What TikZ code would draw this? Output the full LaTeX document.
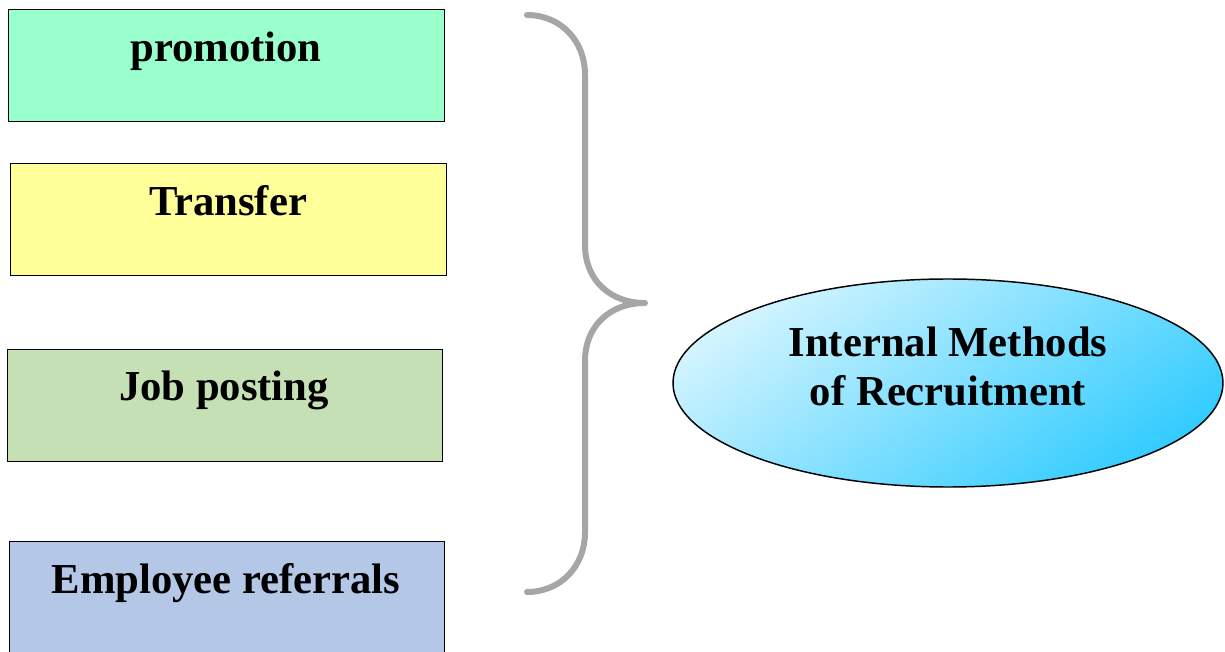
\documentclass[tikz,border=0pt]{standalone}
\usepackage{fontspec}
\setmainfont{Liberation Serif}
\begin{document}
\begin{tikzpicture}[x=0.75pt,y=-0.75pt,
  methodbox/.style={draw=black,line width=1.1pt,anchor=north west,inner sep=0pt},
  label/.style={font=\fontsize{32}{37}\selectfont\bfseries,anchor=base,inner sep=0pt},
  brace/.style={draw=black!35,line width=4.5pt,line cap=round,line join=round}]
  \definecolor{mint}{HTML}{99FFCC}
  \definecolor{lemon}{HTML}{FFFF99}
  \definecolor{sage}{HTML}{C4E0B4}
  \definecolor{lavblue}{HTML}{B4C7E7}
  \definecolor{skylight}{HTML}{D2F4FF}
  \definecolor{skydark}{HTML}{33CCFF}
  \useasboundingbox (0,0) rectangle (1225,652);

  % method boxes
  \node[methodbox,fill=mint,minimum width=436*0.75pt,minimum height=112*0.75pt] (b1) at (8,9) {};
  \node[methodbox,fill=lemon,minimum width=436*0.75pt,minimum height=112*0.75pt] (b2) at (10,163) {};
  \node[methodbox,fill=sage,minimum width=435*0.75pt,minimum height=112*0.75pt] (b3) at (7,349) {};
  \node[methodbox,fill=lavblue,minimum width=435*0.75pt,minimum height=130*0.75pt] (b4) at (9,541) {};

  \node[label] (t1) at (226,62) {promotion};
  \node[label] (t2) at (228,216) {Transfer};
  \node[label] (t3) at (224,401) {Job posting};
  \node[label] (t4) at (226,593) {Employee referrals};

  % target ellipse
  \path[draw=black,line width=1.1pt,top color=skylight,bottom color=skydark,shading angle=35]
    (948,383) ellipse [x radius=275, y radius=104];
  \node[label,align=center] (m1) at (948,357) {Internal Methods};
  \node[label,align=center] (m2) at (948,406) {of Recruitment};

  % curly brace
  \coordinate (ba) at (527,15);
  \coordinate (bt) at (645,303);
  \coordinate (bb) at (527,592);
  \draw[brace] (ba) .. controls (560,15) and (585,40) .. (585,75)
    -- (585,245) .. controls (585,280) and (610,303) .. (bt)
    .. controls (610,303) and (585,326) .. (585,361)
    -- (585,532) .. controls (585,567) and (560,592) .. (bb);
\end{tikzpicture}
\end{document}
